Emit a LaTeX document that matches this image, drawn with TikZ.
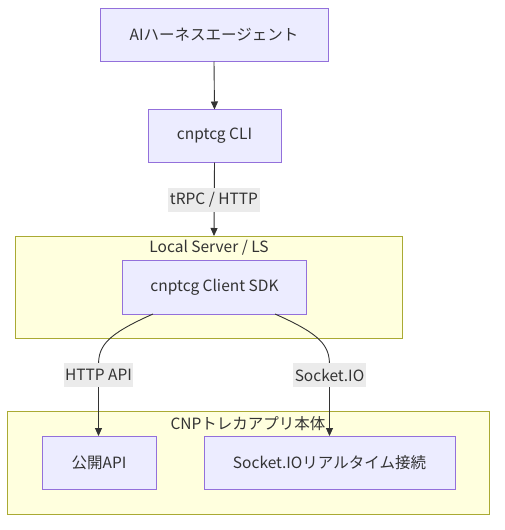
\documentclass[tikz,border=0pt]{standalone}
\usepackage{fontspec}
\setmainfont{Noto Sans CJK JP}
\usetikzlibrary{arrows.meta}
\definecolor{nodefill}{HTML}{ECECFF}
\definecolor{nodeline}{HTML}{9370DB}
\definecolor{clfill}{HTML}{FFFFDE}
\definecolor{clline}{HTML}{AAAA33}
\definecolor{edgec}{HTML}{333333}
\definecolor{lblbg}{HTML}{EBEBEB}
\tikzset{
  box/.style={draw=nodeline, fill=nodefill, line width=1pt, text=edgec, font=\fontsize{15.5}{18}\selectfont, inner sep=0pt},
  cluster/.style={draw=clline, fill=clfill, line width=1pt},
  ctitle/.style={text=edgec, font=\fontsize{15.5}{18}\selectfont, inner sep=0pt},
  elabel/.style={fill=lblbg, text=edgec, font=\fontsize{15.5}{18}\selectfont, inner xsep=1.5pt, inner ysep=0pt, minimum height=24pt},
  conn/.style={draw=edgec, line width=0.9pt, -{Triangle[length=8pt,width=7pt]}}
}
\begin{document}
\begin{tikzpicture}[x=1pt,y=-1pt]
\useasboundingbox (0,0) rectangle (505,530);
% clusters
\node[cluster, minimum width=387pt, minimum height=102pt] (ls) at (208.5,287) {};
\node[ctitle] (lst) at (209,248) {Local Server / LS};
\node[cluster, minimum width=482pt, minimum height=103pt] (cnp) at (248,462.5) {};
\node[ctitle] (cnpt) at (248,424) {CNPトレカアプリ本体};
% nodes
\node[box, minimum width=228pt, minimum height=53pt] (agent) at (214,34.5) {AIハーネスエージェント};
\node[box, minimum width=133pt, minimum height=53pt] (cli) at (214.5,135.5) {cnptcg CLI};
\node[box, minimum width=184pt, minimum height=54pt] (sdk) at (214.5,287) {cnptcg Client SDK};
\node[box, minimum width=114pt, minimum height=53pt] (api) at (99,462.5) {公開API};
\node[box, minimum width=251pt, minimum height=53pt] (sock) at (329.5,462.5) {Socket.IOリアルタイム接続};
% edges
\draw[conn] (agent.south) -- (cli.south |- 0,109.5);
\coordinate (lsin) at (214,236);
\draw[conn] (cli.south) -- (lsin);
\node[elabel] (l1) at (214,200) {tRPC / HTTP};
\coordinate (a1) at (153,314);
\coordinate (a2) at (98.5,436);
\draw[conn] (a1) .. controls (108,334) and (98.5,345) .. (98.5,365) -- (a2);
\coordinate (b1) at (275,314);
\coordinate (b2) at (329.5,436);
\draw[conn] (b1) .. controls (320,334) and (329.5,345) .. (329.5,365) -- (b2);
\node[elabel] (l2) at (98.5,375) {HTTP API};
\node[elabel] (l3) at (329.5,375) {Socket.IO};
\end{tikzpicture}
\end{document}
